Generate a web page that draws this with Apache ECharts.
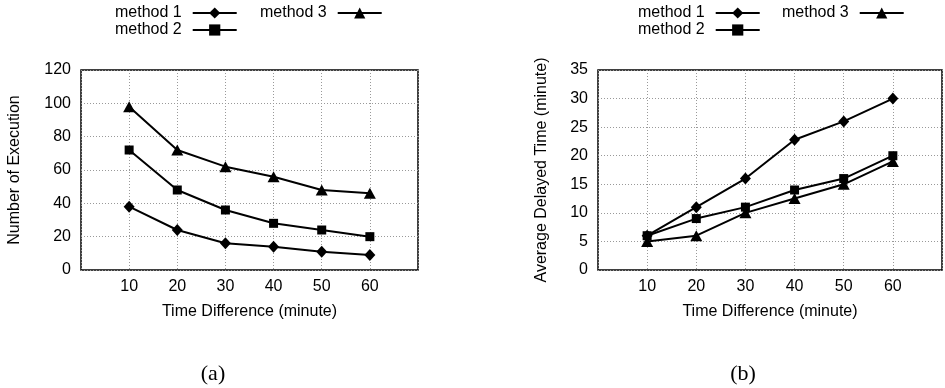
<!DOCTYPE html>
<html>
<head>
<meta charset="utf-8">
<script src="https://cdn.jsdelivr.net/npm/echarts@6/dist/echarts.min.js"></script>
<style>
html,body{margin:0;padding:0;background:#fff;}
#chart{width:945px;height:388px;}
</style>
</head>
<body>
<div id="chart"></div>
<script>
const timeDiff = [10, 20, 30, 40, 50, 60];
const seriesNames = ['method 1', 'method 2', 'method 3'];
const execM1 = [38, 24, 16, 14, 11, 9];
const execM2 = [72, 48, 36, 28, 24, 20];
const execM3 = [98, 72, 62, 56, 48, 46];
const delayM1 = [6, 11, 16, 22.8, 26, 30];
const delayM2 = [6, 9, 11, 14, 16, 20];
const delayM3 = [5, 6, 10, 12.5, 15, 19];
const xTickLabels = ['10', '20', '30', '40', '50', '60'];

const FONT = '"Liberation Sans", Arial, Helvetica, sans-serif';
const SERIF = '"Liberation Serif", "DejaVu Serif", serif';
const symbols = ['diamond', 'rect', 'triangle'];
const symbolSizes = [[11, 12], 9, [12, 11]];

function pairs(vals) { return timeDiff.map((x, i) => [x, vals[i]]); }

function xAxisFor(gi) {
  return {
    type: 'value', gridIndex: gi, min: 0, max: 70, interval: 10,
    name: 'Time Difference (minute)', nameLocation: 'middle', nameGap: 34,
    nameTextStyle: { fontFamily: FONT, fontSize: 16, color: '#000' },
    axisLine: { show: false }, axisTick: { show: false },
    axisLabel: { fontFamily: FONT, fontSize: 16, color: '#000', margin: 9,
      formatter: v => { const i = timeDiff.indexOf(v); return i >= 0 ? xTickLabels[i] : ''; } },
    splitLine: { show: true, lineStyle: { color: '#999', type: [1, 2], width: 1 } }
  };
}
function yAxisFor(gi, name, max, interval, nameGap) {
  return {
    type: 'value', gridIndex: gi, min: 0, max: max, interval: interval,
    name: name, nameLocation: 'middle', nameGap: nameGap,
    nameTextStyle: { fontFamily: FONT, fontSize: 16, color: '#000' },
    axisLine: { show: false }, axisTick: { show: false },
    axisLabel: { fontFamily: FONT, fontSize: 16, color: '#000', margin: 10 },
    splitLine: { show: true, lineStyle: { color: '#999', type: [1, 2], width: 1 } }
  };
}
function seriesFor(gi, arrays) {
  return arrays.map((vals, i) => ({
    type: 'line', name: seriesNames[i], xAxisIndex: gi, yAxisIndex: gi,
    data: pairs(vals), symbol: symbols[i], symbolSize: symbolSizes[i],
    showAllSymbol: true, z: 3 + i,
    lineStyle: { color: '#000', width: 2 },
    itemStyle: { color: '#000', borderWidth: 0 },
    emphasis: { disabled: true }, animation: false
  }));
}
function legendFor(names, left, top) {
  return {
    data: names, orient: 'vertical', left: left, top: top, align: 'right',
    itemWidth: 44, itemHeight: 14, itemGap: 1, padding: 0,
    selectedMode: false,
    textStyle: { fontFamily: FONT, fontSize: 16, color: '#000', lineHeight: 15, padding: [0, 6, 0, 0] }
  };
}

const chart = echarts.init(document.getElementById('chart'), null, { renderer: 'canvas' });
chart.setOption({
  animation: false,
  backgroundColor: '#fff',
  title: [
    { text: '(a)', left: 208, top: 358, textAlign: 'center',
      textStyle: { fontFamily: SERIF, fontSize: 22, fontWeight: 'normal', color: '#000' } },
    { text: '(b)', left: 738, top: 358, textAlign: 'center',
      textStyle: { fontFamily: SERIF, fontSize: 22, fontWeight: 'normal', color: '#000' } }
  ],
  legend: [
    legendFor(['method 1', 'method 2'], 115, 5),
    legendFor(['method 3'], 260, 5),
    legendFor(['method 1', 'method 2'], 638, 5),
    legendFor(['method 3'], 782, 5)
  ],
  grid: [
    { left: 81, right: 527, top: 70, bottom: 118, show: true, borderColor: '#000', borderWidth: 1.5, backgroundColor: 'transparent' },
    { left: 598, right: 1, top: 70, bottom: 118, show: true, borderColor: '#000', borderWidth: 1.5, backgroundColor: 'transparent' }
  ],
  xAxis: [xAxisFor(0), xAxisFor(1)],
  yAxis: [
    yAxisFor(0, 'Number of Execution', 120, 20, 58),
    yAxisFor(1, 'Average Delayed Time (minute)', 35, 5, 48)
  ],
  series: [].concat(
    seriesFor(0, [execM1, execM2, execM3]),
    seriesFor(1, [delayM1, delayM2, delayM3])
  )
});
</script>
</body>
</html>
